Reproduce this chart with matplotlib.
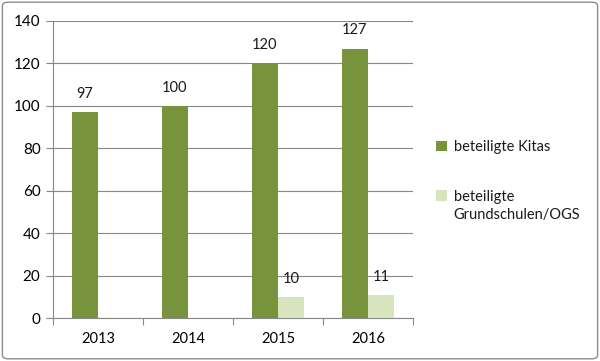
import matplotlib.pyplot as plt
from matplotlib.patches import FancyBboxPatch
import numpy as np

years = ['2013', '2014', '2015', '2016']
kitas = [97, 100, 120, 127]
schulen = [0, 0, 10, 11]
kitas_label = 'beteiligte Kitas'
schulen_label = ['beteiligte', 'Grundschulen/OGS']

plt.rcParams['font.family'] = ['Lato', 'DejaVu Sans']

dark = '#77933C'
light = '#D7E4BD'
grid = '#878787'
txt = '#1a1a1a'

fig = plt.figure(figsize=(6.0, 3.61), dpi=100)
ax = fig.add_axes([53 / 600, 1 - 318 / 361, 360 / 600, 297 / 361])

x = np.arange(len(years))
w = 0.29
b1 = ax.bar(x - w / 2, kitas, width=w, color=dark, zorder=3)
b2 = ax.bar(x + w / 2, schulen, width=w, color=light, zorder=3)

for rect, v in zip(b1, kitas):
    ax.annotate(str(v), (rect.get_x() + rect.get_width() / 2, v), xytext=(0, 8),
                textcoords='offset points', ha='center', va='bottom', fontsize=10.5, color=txt)
for rect, v in zip(b2, schulen):
    if v:
        ax.annotate(str(v), (rect.get_x() + rect.get_width() / 2, v), xytext=(0, 8),
                    textcoords='offset points', ha='center', va='bottom', fontsize=10.5, color=txt)

ax.set_ylim(0, 140)
ax.set_yticks(range(0, 141, 20))
ax.set_xlim(-0.5, len(years) - 0.5)
ax.set_xticks(x)
ax.set_xticklabels(years)
ax.set_xticks(np.arange(-0.5, len(years), 1), minor=True)
ax.tick_params(axis='x', which='major', length=0, pad=10, labelsize=10.5)
ax.tick_params(axis='x', which='minor', length=5, color=grid, width=0.8)
ax.tick_params(axis='y', length=5, color=grid, width=0.8, labelsize=11, pad=4)
ax.yaxis.grid(True, color=grid, linewidth=0.8, zorder=0)
for s in ['top', 'right']:
    ax.spines[s].set_visible(False)
for s in ['left', 'bottom']:
    ax.spines[s].set_color(grid)
    ax.spines[s].set_linewidth(0.8)

leg = fig.legend([b1, b2], [kitas_label, schulen_label[0]], loc='upper left',
                 bbox_to_anchor=(423 / 600, 1 - 127 / 361), frameon=False,
                 fontsize=10.5, handlelength=0.75, handleheight=0.75, handletextpad=0.45,
                 labelspacing=2.45)
for t in leg.get_texts():
    t.set_color(txt)
# second line of the second label, kept under its first line
fig.text(0, 0, schulen_label[1], fontsize=10.5, color=txt, va='top', ha='left',
         transform=leg.get_texts()[1].get_transform())
fig.canvas.draw()
t2 = leg.get_texts()[1]
bb = t2.get_window_extent()
fig.texts[-1].set_transform(None)
fig.texts[-1].set_position((bb.x0, bb.y0 - 4))

border = FancyBboxPatch((0.004, 0.006), 0.992, 0.988, boxstyle='round,pad=0,rounding_size=0.01',
                        transform=fig.transFigure, fill=False, edgecolor='#8c8c8c', linewidth=1)
fig.patches.append(border)

fig.savefig('out.png', dpi=100)
